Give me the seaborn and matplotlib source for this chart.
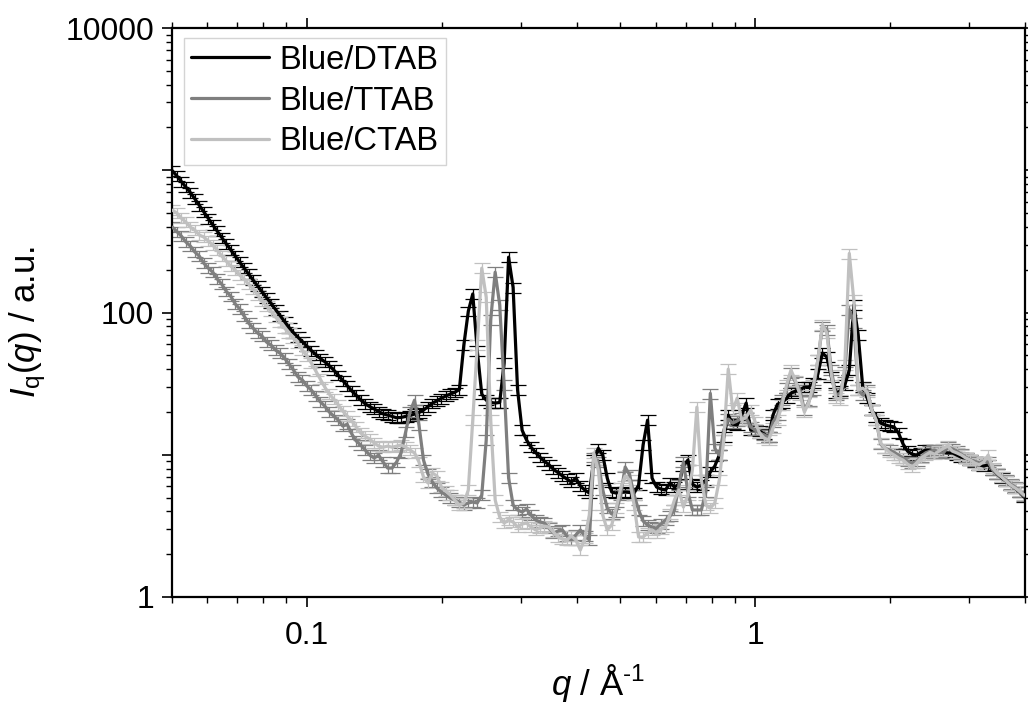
import numpy as np
import pandas as pd
import matplotlib
matplotlib.use("Agg")
import matplotlib.pyplot as plt
import seaborn as sns
from matplotlib.ticker import LogLocator, FuncFormatter, NullFormatter

# Scattering vector q (1/Å), shared by all three samples
Q = [
    0.05012, 0.05129, 0.05248, 0.05370, 0.05495, 0.05623, 0.05754, 0.05888, 0.06026, 0.06166,
    0.06310, 0.06457, 0.06607, 0.06761, 0.06918, 0.07079, 0.07244, 0.07413, 0.07586, 0.07762,
    0.07943, 0.08128, 0.08318, 0.08511, 0.08710, 0.08913, 0.09120, 0.09333, 0.09550, 0.09772,
    0.1000, 0.1023, 0.1047, 0.1072, 0.1096, 0.1122, 0.1148, 0.1175, 0.1202, 0.1230,
    0.1259, 0.1288, 0.1318, 0.1349, 0.1380, 0.1413, 0.1445, 0.1479, 0.1514, 0.1549,
    0.1585, 0.1622, 0.1660, 0.1698, 0.1738, 0.1778, 0.1820, 0.1862, 0.1905, 0.1950,
    0.1995, 0.2042, 0.2089, 0.2138, 0.2188, 0.2239, 0.2291, 0.2344, 0.2399, 0.2455,
    0.2512, 0.2570, 0.2630, 0.2692, 0.2754, 0.2818, 0.2884, 0.2951, 0.3020, 0.3090,
    0.3162, 0.3236, 0.3311, 0.3388, 0.3467, 0.3548, 0.3631, 0.3715, 0.3802, 0.3890,
    0.3981, 0.4074, 0.4169, 0.4266, 0.4365, 0.4467, 0.4571, 0.4677, 0.4786, 0.4898,
    0.5012, 0.5129, 0.5248, 0.5370, 0.5495, 0.5623, 0.5754, 0.5888, 0.6026, 0.6166,
    0.6310, 0.6457, 0.6607, 0.6761, 0.6918, 0.7079, 0.7244, 0.7413, 0.7586, 0.7762,
    0.7943, 0.8128, 0.8318, 0.8511, 0.8710, 0.8913, 0.9120, 0.9333, 0.9550, 0.9772,
    1.000, 1.023, 1.047, 1.072, 1.096, 1.122, 1.148, 1.175, 1.202, 1.230,
    1.259, 1.288, 1.318, 1.349, 1.380, 1.413, 1.445, 1.479, 1.514, 1.549,
    1.585, 1.622, 1.660, 1.698, 1.738, 1.778, 1.820, 1.862, 1.905, 1.950,
    1.995, 2.042, 2.089, 2.138, 2.188, 2.239, 2.291, 2.344, 2.399, 2.455,
    2.512, 2.570, 2.630, 2.692, 2.754, 2.818, 2.884, 2.951, 3.020, 3.090,
    3.162, 3.236, 3.311, 3.388, 3.467, 3.548, 3.631, 3.715, 3.802, 3.890,
    3.981,
]

# Scattered intensity I_q(q), a.u.
I_DTAB = [
    990, 909, 832, 761, 696, 629, 566, 510, 459, 413,
    373, 337, 304, 276, 250, 226, 205, 186, 169, 154,
    140, 127, 116, 105, 95.4, 86.5, 78.5, 72.1, 67.1, 62.4,
    58.1, 54.0, 50.6, 47.4, 45.1, 42.2, 39.4, 36.2, 33.3, 30.6,
    28.1, 26.2, 24.3, 22.8, 21.8, 21.0, 20.1, 19.4, 19.0, 18.6,
    18.2, 18.3, 18.6, 18.9, 19.3, 19.8, 20.6, 21.8, 23.0, 24.0,
    24.9, 25.9, 26.7, 27.5, 28.7, 59.0, 102, 135, 54.0, 26.7,
    24.2, 23.3, 23.1, 23.3, 44.1, 245, 150, 28.5, 14.9, 12.7,
    11.3, 10.4, 9.6, 9.0, 8.5, 7.9, 7.5, 7.1, 6.75, 6.43,
    6.86, 6.03, 5.65, 5.38, 9.18, 11.1, 9.95, 6.86, 5.47, 5.38,
    5.43, 5.47, 5.43, 5.38, 6.12, 11.7, 17.5, 6.86, 5.93, 5.74,
    5.65, 6.33, 5.93, 6.22, 8.33, 9.18, 6.22, 5.93, 6.12, 6.64,
    7.56, 8.33, 9.95, 13.3, 19.0, 16.4, 16.2, 19.0, 23.1, 14.9,
    14.9, 14.7, 14.0, 13.3, 19.0, 22.7, 23.1, 25.0, 27.1, 28.0,
    28.5, 29.9, 29.9, 31.9, 36.9, 51.9, 48.6, 35.2, 27.1, 28.0,
    30.9, 39.4, 113, 69.4, 29.9, 25.0, 20.6, 18.4, 16.7, 16.2,
    15.9, 15.7, 14.2, 11.9, 10.6, 10.1, 9.95, 10.4, 10.8, 10.8,
    10.6, 10.4, 10.4, 10.3, 10.3, 9.95, 9.6, 9.48, 9.18, 8.89,
    8.5, 8.33, 8.5, 7.81, 7.32, 6.86, 6.53, 6.12, 5.83, 5.47,
    5.04,
]

I_TTAB = [
    398, 370, 344, 313, 293, 266, 249, 222, 205, 192,
    172, 158, 141, 130, 115, 106, 94.3, 84.2, 77.7, 71.7,
    68.2, 61.9, 59.0, 54.4, 51.9, 47.8, 43.4, 39.4, 35.2, 33.5,
    30.4, 28.5, 25.9, 23.5, 22.0, 19.95, 18.7, 17.5, 15.9, 16.4,
    14.0, 12.5, 11.7, 10.8, 9.95, 9.48, 9.95, 8.89, 8.06, 8.06,
    8.89, 10.3, 14.4, 19.95, 24.2, 16.2, 9.18, 7.32, 6.43, 5.83,
    5.47, 5.21, 4.96, 4.81, 4.65, 4.43, 4.58, 4.65, 4.58, 5.21,
    12.7, 88.4, 192, 113, 30.9, 6.86, 4.43, 4.09, 3.96, 4.15,
    3.77, 3.48, 3.37, 3.31, 3.05, 2.82, 2.91, 2.96, 2.68, 2.52,
    2.73, 2.96, 2.68, 2.52, 9.6, 8.89, 5.65, 4.22, 3.83, 3.96,
    5.21, 8.2, 7.2, 5.21, 4.09, 3.42, 3.21, 3.10, 3.05, 3.26,
    3.48, 3.71, 4.09, 6.12, 8.89, 5.47, 4.09, 4.09, 4.09, 5.47,
    27.0, 11.1, 9.95, 14.9, 17.8, 16.7, 17.3, 18.1, 18.1, 15.7,
    14.9, 14.2, 13.8, 13.3, 17.0, 19.0, 24.2, 29.4, 37.5, 32.4,
    28.5, 20.6, 23.8, 28.5, 46.3, 80.0, 76.0, 39.4, 26.3, 27.1,
    38.1, 105, 85.0, 28.5, 26.3, 28.5, 20.6, 17.5, 11.9, 11.1,
    10.8, 10.4, 9.95, 9.48, 9.0, 8.74, 9.0, 9.6, 10.3, 10.6,
    10.8, 10.4, 10.3, 11.3, 11.0, 10.6, 10.1, 9.6, 9.18, 9.0,
    8.74, 9.0, 8.89, 7.81, 7.32, 6.97, 6.64, 6.22, 5.93, 5.47,
    5.13,
]

I_CTAB = [
    524, 499, 460, 432, 398, 379, 350, 339, 318, 297,
    274, 249, 230, 212, 199, 183, 172, 158, 146, 133,
    120, 111, 102, 92.8, 85.6, 77.7, 71.7, 66.1, 61.0, 54.4,
    49.4, 44.1, 38.7, 34.0, 29.9, 26.7, 24.6, 22.4, 20.3, 18.7,
    17.3, 15.7, 14.2, 13.5, 12.9, 12.1, 11.5, 11.3, 11.5, 11.3,
    11.5, 11.7, 11.3, 10.8, 10.3, 8.89, 6.97, 6.33, 7.44, 7.1,
    5.93, 5.56, 5.21, 4.81, 4.43, 4.58, 5.65, 17.5, 59.0, 205,
    128, 17.5, 4.81, 3.65, 3.31, 3.48, 3.37, 3.10, 3.26, 3.31,
    3.10, 2.96, 3.05, 3.15, 3.10, 2.86, 2.64, 2.56, 2.52, 2.68,
    2.52, 2.14, 2.6, 3.77, 10.3, 7.81, 3.77, 2.96, 3.21, 4.22,
    5.83, 7.1, 6.64, 4.43, 2.64, 2.64, 2.82, 2.96, 2.82, 3.0,
    3.10, 3.83, 4.81, 5.65, 4.29, 5.21, 7.8, 21.6, 6.64, 4.43,
    4.22, 4.58, 6.64, 12.7, 40.0, 20.6, 25.0, 17.5, 18.4, 20.6,
    17.0, 14.2, 13.1, 12.7, 15.4, 17.5, 22.4, 30.9, 39.4, 33.3,
    26.3, 19.95, 23.5, 30.9, 46.3, 82.0, 72.0, 36.3, 25.0, 24.2,
    42.7, 260, 122, 28.5, 29.4, 27.6, 20.6, 17.5, 12.1, 11.1,
    10.4, 9.95, 9.48, 9.18, 8.6, 8.19, 8.74, 9.48, 9.95, 10.4,
    10.1, 10.6, 11.1, 11.5, 10.6, 10.3, 9.95, 9.48, 9.18, 8.74,
    8.5, 8.89, 9.95, 8.06, 7.44, 6.97, 6.53, 6.12, 5.83, 5.56,
    5.21,
]

SAMPLES = ["Blue/DTAB", "Blue/TTAB", "Blue/CTAB"]
COLORS = ["#000000", "#7f7f7f", "#c0c0c0"]
REL_ERR = 0.08  # relative uncertainty of each intensity point

sns.set_theme(style="ticks")
plt.rcParams["font.family"] = ["Liberation Sans", "DejaVu Sans"]
plt.rcParams["mathtext.fontset"] = "custom"
plt.rcParams["mathtext.rm"] = "Liberation Sans"
plt.rcParams["mathtext.it"] = "Liberation Sans:italic"
plt.rcParams["mathtext.bf"] = "Liberation Sans:bold"
for key in ["text.color", "axes.labelcolor", "xtick.color", "ytick.color",
            "xtick.labelcolor", "ytick.labelcolor"]:
    plt.rcParams[key] = "black"

df = pd.DataFrame({
    "q": Q * 3,
    "I": I_DTAB + I_TTAB + I_CTAB,
    "sample": [s for s in SAMPLES for _ in Q],
})
df["err"] = REL_ERR * df["I"]

fig = plt.figure(figsize=(10.28, 7.13), dpi=100)
ax = fig.add_axes([172 / 1028, 1 - 597 / 713, 853 / 1028, 569 / 713])
ax.set_xscale("log")
ax.set_yscale("log")

for name, color in zip(SAMPLES, COLORS):
    sub = df[df["sample"] == name]
    ax.errorbar(sub["q"], sub["I"], yerr=sub["err"], fmt="none", ecolor=color,
                elinewidth=0.9, capsize=5.5, capthick=0.9, zorder=2)
    sns.lineplot(data=sub, x="q", y="I", color=color, linewidth=2.3, ax=ax,
                 label=name, estimator=None, sort=False, zorder=3)

ax.set_xlim(0.05, 4.0)
ax.set_ylim(1, 10000)

ax.xaxis.set_major_locator(LogLocator(base=10, numticks=10))
ax.xaxis.set_minor_locator(LogLocator(base=10, subs=np.arange(2, 10), numticks=100))
ax.yaxis.set_major_locator(LogLocator(base=10, numticks=10))
ax.yaxis.set_minor_locator(LogLocator(base=10, subs=np.arange(2, 10), numticks=100))
ax.xaxis.set_major_formatter(FuncFormatter(lambda v, p: f"{v:g}"))
ax.yaxis.set_major_formatter(
    FuncFormatter(lambda v, p: f"{v:g}" if round(np.log10(v)) % 2 == 0 else ""))
ax.xaxis.set_minor_formatter(NullFormatter())
ax.yaxis.set_minor_formatter(NullFormatter())

ax.tick_params(which="both", direction="out", top=True, right=True,
               labeltop=False, labelright=False, color="black")
ax.tick_params(which="major", length=7, width=1.2, labelsize=23)
ax.tick_params(which="minor", length=4, width=1.0)
ax.tick_params(axis="x", which="major", pad=10)
ax.tick_params(axis="y", which="major", pad=6)

for sp in ax.spines.values():
    sp.set_linewidth(1.6)
    sp.set_color("black")

ax.set_xlabel(r"$\mathit{q}$ / Å$^{\text{-}1}$", fontsize=25, labelpad=8)
ax.set_ylabel(r"$\mathit{I}_{\mathrm{q}}(\mathit{q})$ / a.u.", fontsize=25)
ax.yaxis.set_label_coords(-0.145, 0.483)

leg = ax.legend(loc="upper left", bbox_to_anchor=(0.014, 0.983), fontsize=23.5,
                frameon=True, fancybox=False, edgecolor="#d4d4d4", framealpha=1,
                borderpad=0.22, handlelength=2.4, handletextpad=0.3,
                labelspacing=0.3, borderaxespad=0)
leg.get_frame().set_linewidth(1.0)
for line in leg.get_lines():
    line.set_linewidth(2.3)

fig.savefig("out.png", dpi=100)
